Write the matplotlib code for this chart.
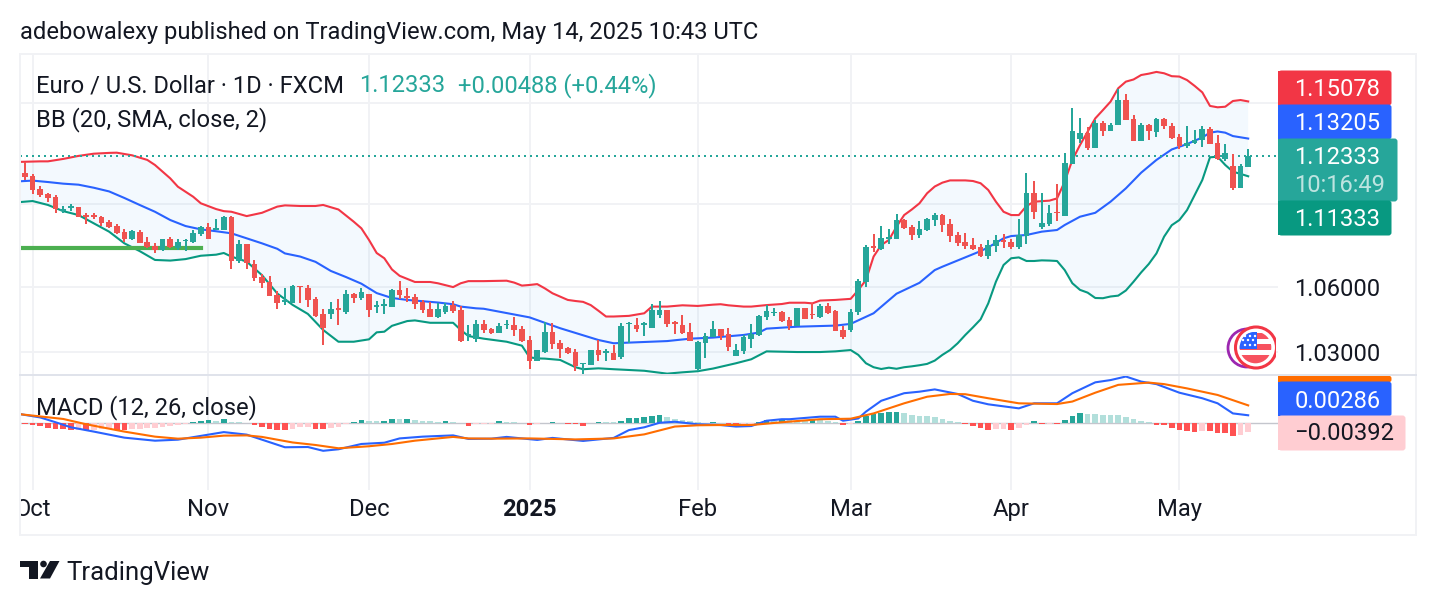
import numpy as np
import matplotlib
matplotlib.use("Agg")
import matplotlib.pyplot as plt
from matplotlib.patches import Circle, FancyBboxPatch, Polygon, Rectangle
from matplotlib.transforms import Bbox, IdentityTransform, TransformedBbox

plt.rcParams["font.family"] = ["Roboto", "DejaVu Sans"]

opens = [1.1149,1.1135,1.1071,1.1046,1.1032,1.0963,1.0978,1.0983,1.0944,1.0944,
1.0934,1.0910,1.0891,1.0862,1.0829,1.0862,1.0814,1.0796,1.0776,1.0829,
1.0786,1.0819,1.0814,1.0853,1.0886,1.0872,1.0872,1.0934,1.0724,1.0805,
1.0710,1.0648,1.0625,1.0564,1.0532,1.0527,1.0606,1.0596,1.0546,1.0476,
1.0476,1.0504,1.0485,1.0569,1.0550,1.0569,1.0508,1.0513,1.0508,1.0587,
1.0559,1.0555,1.0532,1.0499,1.0462,1.0485,1.0518,1.0494,1.0375,1.0361,
1.0430,1.0407,1.0388,1.0424,1.0425,1.0407,1.0356,1.0260,1.0301,1.0393,
1.0342,1.0319,1.0301,1.0245,1.0242,1.0310,1.0296,1.0296,1.0278,1.0430,
1.0425,1.0425,1.0411,1.0471,1.0494,1.0439,1.0425,1.0393,1.0224,1.0342,
1.0370,1.0407,1.0384,1.0283,1.0305,1.0361,1.0379,1.0462,1.0480,1.0485,
1.0448,1.0420,1.0503,1.0476,1.0462,1.0513,1.0490,1.0402,1.0402,1.0485,
1.0625,1.0795,1.0781,1.0829,1.0829,1.0920,1.0886,1.0848,1.0872,1.0920,
1.0944,1.0901,1.0848,1.0815,1.0800,1.0790,1.0748,1.0795,1.0824,1.0815,
1.0790,1.0843,1.1051,1.0886,1.0901,1.0958,1.0939,1.1195,1.1318,1.1348,
1.1273,1.1399,1.1358,1.1389,1.1515,1.1419,1.1308,1.1389,1.1353,1.1419,
1.1384,1.1328,1.1283,1.1298,1.1313,1.1368,1.1298,1.1219,1.1184,1.1077,
1.1180]
highs = [1.1206,1.1145,1.1086,1.1051,1.1041,1.0988,1.0997,1.0983,1.0954,1.0954,
1.0939,1.0920,1.0901,1.0877,1.0872,1.0872,1.0838,1.0810,1.0829,1.0838,
1.0829,1.0829,1.0872,1.0891,1.0906,1.0925,1.0939,1.0939,1.0824,1.0805,
1.0729,1.0662,1.0653,1.0582,1.0596,1.0610,1.0606,1.0610,1.0555,1.0499,
1.0532,1.0546,1.0587,1.0573,1.0596,1.0569,1.0536,1.0546,1.0592,1.0629,
1.0596,1.0569,1.0541,1.0532,1.0527,1.0527,1.0536,1.0513,1.0425,1.0448,
1.0448,1.0411,1.0434,1.0448,1.0462,1.0420,1.0374,1.0310,1.0439,1.0434,
1.0356,1.0324,1.0315,1.0251,1.0310,1.0356,1.0315,1.0333,1.0434,1.0439,
1.0457,1.0439,1.0522,1.0536,1.0494,1.0443,1.0471,1.0434,1.0351,1.0388,
1.0443,1.0407,1.0411,1.0338,1.0379,1.0430,1.0471,1.0517,1.0503,1.0490,
1.0462,1.0503,1.0503,1.0527,1.0522,1.0527,1.0494,1.0420,1.0499,1.0638,
1.0800,1.0853,1.0891,1.0877,1.0949,1.0925,1.0896,1.0915,1.0930,1.0954,
1.0949,1.0925,1.0862,1.0858,1.0834,1.0805,1.0824,1.0848,1.0853,1.0829,
1.0925,1.1148,1.1110,1.1051,1.0992,1.1095,1.1247,1.1474,1.1424,1.1378,
1.1414,1.1409,1.1399,1.1571,1.1545,1.1439,1.1399,1.1394,1.1424,1.1424,
1.1399,1.1343,1.1384,1.1363,1.1384,1.1378,1.1338,1.1293,1.1243,1.1194,
1.1268]
lows = [1.1115,1.1046,1.1032,1.1007,1.0954,1.0954,1.0963,1.0934,1.0901,1.0925,
1.0891,1.0882,1.0853,1.0814,1.0824,1.0810,1.0786,1.0762,1.0771,1.0786,
1.0776,1.0771,1.0810,1.0843,1.0829,1.0872,1.0872,1.0686,1.0715,1.0686,
1.0629,1.0596,1.0559,1.0499,1.0518,1.0527,1.0527,1.0508,1.0462,1.0333,
1.0453,1.0425,1.0476,1.0527,1.0541,1.0462,1.0480,1.0476,1.0508,1.0546,
1.0532,1.0499,1.0480,1.0462,1.0457,1.0476,1.0480,1.0347,1.0351,1.0347,
1.0388,1.0384,1.0388,1.0407,1.0374,1.0347,1.0224,1.0260,1.0296,1.0315,
1.0274,1.0292,1.0214,1.0201,1.0242,1.0260,1.0260,1.0265,1.0269,1.0342,
1.0393,1.0374,1.0411,1.0457,1.0416,1.0384,1.0384,1.0351,1.0214,1.0274,
1.0370,1.0356,1.0305,1.0283,1.0292,1.0319,1.0374,1.0448,1.0466,1.0439,
1.0402,1.0420,1.0453,1.0453,1.0457,1.0476,1.0397,1.0361,1.0393,1.0471,
1.0601,1.0767,1.0776,1.0805,1.0829,1.0877,1.0824,1.0834,1.0867,1.0891,
1.0862,1.0815,1.0795,1.0781,1.0776,1.0743,1.0734,1.0767,1.0786,1.0781,
1.0781,1.0805,1.0925,1.0877,1.0891,1.0915,1.0939,1.1195,1.1298,1.1263,
1.1273,1.1333,1.1358,1.1389,1.1414,1.1308,1.1308,1.1313,1.1328,1.1368,
1.1318,1.1268,1.1273,1.1293,1.1278,1.1293,1.1214,1.1209,1.1066,1.1077,
1.1180]
closes = [1.1130,1.1066,1.1041,1.1027,1.0973,1.0973,1.0988,1.0934,1.0934,1.0934,
1.0906,1.0886,1.0858,1.0829,1.0867,1.0810,1.0791,1.0776,1.0829,1.0791,
1.0814,1.0824,1.0858,1.0886,1.0829,1.0882,1.0934,1.0724,1.0805,1.0715,
1.0643,1.0620,1.0559,1.0527,1.0541,1.0606,1.0601,1.0541,1.0466,1.0411,
1.0499,1.0494,1.0569,1.0550,1.0578,1.0494,1.0518,1.0522,1.0587,1.0564,
1.0550,1.0522,1.0494,1.0462,1.0499,1.0513,1.0490,1.0351,1.0384,1.0430,
1.0402,1.0388,1.0420,1.0430,1.0402,1.0351,1.0260,1.0310,1.0393,1.0338,
1.0315,1.0296,1.0237,1.0251,1.0310,1.0287,1.0305,1.0265,1.0420,1.0434,
1.0407,1.0434,1.0494,1.0494,1.0430,1.0430,1.0388,1.0351,1.0347,1.0374,
1.0407,1.0374,1.0324,1.0310,1.0370,1.0384,1.0466,1.0490,1.0485,1.0443,
1.0420,1.0503,1.0453,1.0471,1.0513,1.0480,1.0397,1.0370,1.0485,1.0629,
1.0790,1.0786,1.0834,1.0838,1.0920,1.0882,1.0848,1.0877,1.0925,1.0944,
1.0896,1.0843,1.0810,1.0795,1.0781,1.0748,1.0800,1.0824,1.0815,1.0790,
1.0848,1.1051,1.0958,1.0906,1.0954,1.0954,1.1200,1.1358,1.1348,1.1273,
1.1399,1.1358,1.1389,1.1515,1.1414,1.1308,1.1389,1.1358,1.1419,1.1384,
1.1323,1.1283,1.1298,1.1313,1.1368,1.1293,1.1219,1.1248,1.1077,1.1184,
1.12333]

# Bollinger band samples: bar number and price
upper_bars = [-1,2,3,5,7,9,11,12,14,16,17,19,20,22,23,25,26,27,29,31,33,34,36,38,39,41,43,44,45,46,47,48,49,51,53,54,56,57,
58,60,63,64,65,66,67,68,69,71,72,73,74,75,76,77,79,80,81,82,84,86,88,90,91,92,94,95,97,99,100,102,103,104,106,108,109,110,
111,112,113,114,115,116,117,118,119,120,121,123,124,125,126,127,128,129,130,131,132,134,135,136,137,138,139,140,141,142,143,
144,145,146,147,148,149,150,151,152,153,154,155,156,157,158,159,160]
upper_band = [1.1204,1.1207,1.1207,1.1219,1.1234,1.1245,1.1249,1.1250,1.1237,1.1214,1.1189,1.1123,1.1082,1.1033,1.1001,1.0973,1.0963,1.0960,1.0939,1.0955,1.0985,1.0991,1.0988,1.0988,1.0993,1.0971,1.0912,1.0880,1.0824,1.0762,1.0737,1.0684,1.0654,1.0625,1.0625,1.0619,1.0601,1.0619,
1.0629,1.0629,1.0631,1.0622,1.0608,1.0611,1.0615,1.0595,1.0572,1.0541,1.0536,1.0532,1.0517,1.0491,1.0464,1.0464,1.0467,1.0473,1.0479,1.0510,1.0510,1.0516,1.0513,1.0519,1.0521,1.0516,1.0510,1.0510,1.0517,1.0522,1.0528,1.0528,1.0525,1.0538,1.0541,1.0546,1.0587,1.0634,
1.0745,1.0800,1.0824,1.0888,1.0944,1.0971,1.1001,1.1050,1.1083,1.1102,1.1113,1.1113,1.1110,1.1099,1.1066,1.1009,1.0960,1.0944,1.0944,1.0988,1.1009,1.1014,1.1025,1.1107,1.1214,1.1288,1.1355,1.1422,1.1464,1.1507,1.1575,
1.1609,1.1620,1.1643,1.1650,1.1659,1.1652,1.1637,1.1635,1.1617,1.1587,1.1554,1.1485,1.1478,1.1481,1.1510,1.1515,1.15078]

middle_bars = [-1,1,3,5,7,9,11,13,15,17,19,21,23,25,27,29,31,33,34,36,38,40,42,44,46,48,50,52,54,56,57,59,
60,66,70,75,77,79,84,87,90,94,96,97,101,106,108,111,114,115,117,119,120,125,126,128,129,131,133,135,136,138,140,142,144,146,148,150,152,154,155,156,157,158,160]
middle_band = [1.1108,1.1112,1.1105,1.1097,1.1092,1.1077,1.1059,1.1027,1.0993,1.0960,1.0920,1.0891,1.0875,1.0866,1.0856,1.0832,1.0808,1.0782,1.0760,1.0745,1.0720,1.0677,1.0648,1.0617,1.0573,1.0550,1.0541,1.0535,1.0529,1.0521,1.0510,1.0502,
1.0500,1.0460,1.0410,1.0356,1.0341,1.0344,1.0351,1.0362,1.0367,1.0379,1.0390,1.0408,1.0417,1.0422,1.0430,1.0479,1.0570,1.0587,1.0621,1.0681,1.0697,1.0771,1.0789,1.0832,1.0843,1.0848,1.0864,1.0872,1.0896,1.0936,1.0955,1.1009,1.1074,1.1151,1.1214,1.1266,1.1293,1.1326,1.1350,1.1356,1.1350,1.1333,1.13205]

lower_bars = [-1,1,3,5,7,9,11,13,15,17,19,21,23,25,26,27,29,31,33,35,37,39,41,43,45,46,47,48,50,51,53,56,57,
58,60,63,65,66,67,68,70,72,73,75,77,81,84,86,88,90,93,95,97,101,104,106,108,
109,110,111,112,113,114,115,116,117,118,119,120,121,122,123,124,125,126,127,128,129,130,131,132,133,134,135,136,137,138,139,140,141,142,143,144,145,146,147,148,149,150,151,152,153,154,155,156,157,158,159,160]
lower_band = [1.1006,1.1012,1.0993,1.0963,1.0944,1.0904,1.0864,1.0808,1.0771,1.0729,1.0726,1.0733,1.0749,1.0754,1.0762,1.0745,1.0721,1.0657,1.0571,1.0518,1.0476,1.0402,1.0348,1.0348,1.0359,1.0391,1.0394,1.0421,1.0443,1.0446,1.0435,1.0435,1.0402,
1.0374,1.0362,1.0348,1.0330,1.0277,1.0272,1.0271,1.0265,1.0232,1.0223,1.0227,1.0223,1.0216,1.0203,1.0209,1.0214,1.0226,1.0250,1.0268,1.0304,1.0301,1.0301,1.0304,1.0310,
1.0288,1.0250,1.0232,1.0224,1.0230,1.0225,1.0232,1.0236,1.0241,1.0247,1.0262,1.0288,1.0310,1.0341,1.0379,1.0414,1.0451,1.0525,1.0626,1.0705,1.0737,1.0741,1.0724,1.0724,1.0727,1.0726,1.0724,1.0681,1.0619,1.0588,1.0575,1.0550,1.0549,1.0557,1.0561,1.0585,1.0626,1.0670,1.0710,1.0760,1.0840,1.0895,1.0920,1.0968,1.1041,1.1115,1.1227,1.1230,1.1189,1.1156,1.1145,1.11333]

macd_bars = [-1,2,4,6,9,13,17,20,23,26,29,31,34,37,39,41,44,47,49,52,56,58,61,63,67,69,73,77,79,81,83,85,88,91,93,95,97,99,100,104,106,107,109,110,112,115,117,119,122,124,126,130,132,135,137,140,142,144,146,148,151,154,156,158,160]
macd_line = [.0035,.0020,.0001,-.0019,-.0036,-.0060,-.0072,-.0068,-.0053,-.0038,-.0048,-.0068,-.0098,-.0097,-.0112,-.0106,-.0085,-.0080,-.0063,-.0056,-.0051,-.0065,-.0064,-.0057,-.0069,-.0061,-.0073,-.0061,-.0030,-.0019,-.0001,.0003,-.0007,-.0010,-.0016,-.0014,.0007,.0013,.0013,.0023,.0023,.0007,.0016,.0043,.0086,.0116,.0122,.0131,.0113,.0086,.0072,.0056,.0076,.0076,.0116,.0159,.0168,.0182,.0162,.0152,.0118,.0096,.0076,.0036,.00286]

signal_bars = [-1,2,5,8,13,17,20,23,26,29,31,35,38,41,45,48,51,56,58,61,66,72,77,81,85,88,91,95,99,104,108,111,115,118,121,123,126,130,135,137,140,143,147,149,152,156,160]
signal_line = [.0034,.0024,.0014,-.0007,-.0036,-.0056,-.0064,-.0060,-.0052,-.0051,-.0057,-.0079,-.0089,-.0102,-.0094,-.0085,-.0072,-.0057,-.0063,-.0064,-.0063,-.0067,-.0063,-.0047,-.0016,-.0011,-.0010,-.0010,.0001,.0013,.0015,.0036,.0076,.0102,.0113,.0112,.0096,.0076,.0073,.0083,.0118,.0149,.0158,.0152,.0135,.0109,.00678]

histogram = [-.0004,-.0008,-.0013,-.0020,-.0026,-.0027,-.0031,-.0030,-.0030,-.0029,
-.0026,-.0025,-.0029,-.0030,-.0027,-.0024,-.0023,-.0022,-.0018,-.0013,
-.0010,-.0006,.0003,.0004,.0008,.0007,.0012,.0002,.0001,-.0001,
-.0008,-.0016,-.0024,-.0029,-.0030,-.0024,-.0018,-.0017,-.0024,-.0026,
-.0021,-.0016,-.0004,.0002,.0008,.0007,.0005,.0006,.0012,.0012,
.0013,.0011,.0007,.0004,.0002,.0004,.0003,-.0003,-.0012,-.0007,
-.0006,-.0004,.0004,.0003,.0002,-.0001,-.0009,-.0007,-.0003,.0001,
-.0001,-.0007,-.0007,-.0012,-.0003,.0003,.0002,.0002,.0007,.0016,
.0019,.0021,.0025,.0029,.0023,.0015,.0011,.0004,.0001,-.0001,
.0003,-.0003,-.0007,-.0007,-.0006,-.0004,.0003,.0008,.0007,.0009,
.0008,.0007,.0007,.0009,.0009,.0007,.0003,-.0008,-.0005,.0007,
.0024,.0032,.0036,.0040,.0042,.0036,.0030,.0026,.0024,.0020,
.0013,.0005,.0001,-.0007,-.0013,-.0022,-.0029,-.0026,-.0025,-.0029,
-.0020,-.0008,.0004,-.0007,-.0004,-.0004,.0009,.0026,.0036,.0035,
.0034,.0030,.0030,.0030,.0020,.0012,.0004,.0001,-.0008,-.0011,
-.0020,-.0029,-.0033,-.0037,-.0033,-.0034,-.0040,-.0040,-.0053,-.0050,
-.00392]

support_bars = [-1, 23]
support_level = [1.0786, 1.0786]

month_bars = [1, 24, 45, 66, 88, 108, 129, 151]
month_names = ["Oct", "Nov", "Dec", "2025", "Feb", "Mar", "Apr", "May"]
price_ticks = [1.03, 1.06, 1.10, 1.15]
price_tick_labels = ["1.03000", "1.06000", "", ""]
last_close = 1.12333

UP, DOWN = "#26a69a", "#ef5350"
GRID = "#f1f2f5"
INK = "#131722"
W, H = 1436, 606
FS = 17.15
LINE = 1.5


def pane(fig, left, top, right, bottom):
    return fig.add_axes([left / W, 1 - bottom / H, (right - left) / W, (bottom - top) / H])


fig = plt.figure(figsize=(W / 100, H / 100), dpi=100, facecolor="white")
ax = pane(fig, 20, 55, 1278, 375)
mx = pane(fig, 20, 376, 1278, 490)
bars = np.arange(len(closes))
x_range = (-0.654, 163.9)

# Candles and Bollinger bands on a logarithmic price scale
ax.set_yscale("log")
ax.set_xlim(*x_range)
ax.set_ylim(1.01969, 1.17465)
o, h, l, c = map(np.array, (opens, highs, lows, closes))
colors = np.where(c >= o, UP, DOWN)

ax.fill(list(upper_bars) + list(lower_bars)[::-1],
        list(upper_band) + list(lower_band)[::-1],
        color="#2196f3", alpha=0.05, lw=0, zorder=1)
ax.plot(upper_bars, upper_band, color="#f23645", lw=LINE, zorder=2)
ax.plot(middle_bars, middle_band, color="#2962ff", lw=LINE, zorder=2)
ax.plot(lower_bars, lower_band, color="#089981", lw=LINE, zorder=2)
ax.plot(support_bars, support_level, color="#4caf50", lw=3.0, zorder=2.5)
ax.axhline(last_close, color=UP, lw=1.44, dashes=(1, 2), zorder=2.6)
ax.vlines(bars, l, h, colors=colors, lw=1.44, zorder=3)
ax.bar(bars, np.abs(c - o), bottom=np.minimum(o, c), width=0.74, color=colors, lw=0, zorder=4)

# MACD pane
mx.set_xlim(*x_range)
mx.set_ylim(-0.02672, 0.01841)
hist = np.array(histogram)
prev = np.r_[hist[0], hist[:-1]]
hist_colors = np.where(hist >= 0,
                       np.where(hist > prev, "#26a69a", "#b2dfdb"),
                       np.where(hist > prev, "#ffcdd2", "#ff5252"))
mx.axhline(0, color="#c4c6cd", lw=1.0, zorder=1)
mx.bar(bars, hist, width=0.74, color=hist_colors, lw=0, zorder=2)
mx.plot(macd_bars, macd_line, color="#2962ff", lw=LINE, zorder=3)
mx.plot(signal_bars, signal_line, color="#ff6d00", lw=LINE, zorder=3)

for a in (ax, mx):
    for s in a.spines.values():
        s.set_visible(False)
    a.set_facecolor("white")
    a.set_xticks(month_bars)
    a.grid(True, axis="x", color=GRID, lw=1.44, zorder=0)
    a.set_axisbelow(True)
    a.tick_params(length=0)
ax.set_xticklabels([])
ax.yaxis.tick_right()
ax.minorticks_off()
ax.set_yticks(price_ticks)
ax.set_yticklabels(price_tick_labels, fontsize=FS, color=INK)
ax.tick_params(axis="y", pad=11.5)
ax.grid(True, axis="y", which="major", color=GRID, lw=1.44, zorder=0)
mx.set_yticks([])
mx.set_xticklabels(month_names, fontsize=FS, color=INK)
mx.tick_params(axis="x", pad=6)
clip = TransformedBbox(Bbox([[20, 0], [W, H]]), IdentityTransform())
for lbl in mx.get_xticklabels():
    lbl.set_clip_box(clip)
    lbl.set_clip_on(True)
    if lbl.get_text() == "2025":
        lbl.set_fontweight("bold")

# Page furniture drawn in figure pixels
ov = fig.add_axes([0, 0, 1, 1], zorder=10)
ov.set_xlim(0, W)
ov.set_ylim(H, 0)
ov.axis("off")
ov.patch.set_visible(False)

ov.add_patch(Rectangle((20, 54), 1396, 481, fill=False, ec=GRID, lw=1.44))
ov.plot([20, 1416], [375, 375], color="#e0e3eb", lw=1.44)

ov.text(20, 32.5, "adebowalexy published on TradingView.com, May 14, 2025 10:43 UTC",
        fontsize=FS, color=INK, va="center")
ov.text(36, 86, "Euro / U.S. Dollar · 1D · FXCM", fontsize=FS, color=INK, va="center")
ov.text(359, 86, "1.12333", fontsize=FS, color=UP, va="center")
ov.text(458, 86, "+0.00488 (+0.44%)", fontsize=FS, color=UP, va="center")
ov.text(36, 120, "BB (20, SMA, close, 2)", fontsize=FS, color=INK, va="center")
ov.text(36, 408, "MACD (12, 26, close)", fontsize=FS, color=INK, va="center")


def tag(top, bottom, right, color):
    ov.add_patch(FancyBboxPatch((1280, top + 1), right - 1282, bottom - top - 2,
                                boxstyle="round,pad=1.5,rounding_size=3",
                                fc=color, ec="none", mutation_aspect=1))
    ov.add_patch(Rectangle((1278, top), 6, bottom - top, fc=color, ec="none"))


tag(376, 382, 1392, "#ff6d00")
tag(71, 105, 1392, "#f23645")
tag(105, 139, 1392, "#2962ff")
tag(139, 201, 1398, "#26a69a")
tag(201, 235, 1392, "#089981")
tag(382, 416, 1392, "#2962ff")
tag(416, 450, 1406, "#ffcdd2")
tags = [(90, "1.15078", "white"), (123.5, "1.13205", "white"), (158, "1.12333", "white"),
        (219.5, "1.11333", "white"), (401, "0.00286", "white"), (434, "\u22120.00392", INK)]
for y, s, col in tags:
    ov.text(1294.5, y, s, fontsize=FS, color=col, va="center")
ov.text(1294.5, 186, "10:16:49", fontsize=FS, color="white", alpha=0.7, va="center")

# Time-zone flag marker, cut off at the price scale
edge = Rectangle((1200, 320), 76, 54, transform=ov.transData)
ring1 = Circle((1247, 348), 19, fc="white", ec="#9c27b0", lw=2.0)
ring2 = Circle((1256, 347.5), 20.5, fc="white", ec="#f23645", lw=2.2)
for p in (ring1, ring2):
    ov.add_patch(p)
    p.set_clip_path(edge)
disc = Circle((1255.5, 347.5), 15.8, transform=ov.transData)
stripes = [Rectangle((1238, 333), 36, 5.5, fc="#f7525f", ec="none"),
           Rectangle((1238, 344), 36, 5.5, fc="#f7525f", ec="none"),
           Rectangle((1238, 355), 36, 9, fc="#f7525f", ec="none"),
           Rectangle((1238, 332), 19, 17, fc="#2962ff", ec="none")]
for p in stripes:
    ov.add_patch(p)
    p.set_clip_path(disc)
for sx, sy in [(1245, 336), (1250, 336), (1255, 336), (1243, 340), (1248, 340), (1253, 340),
               (1245, 345), (1250, 345), (1255, 345)]:
    ov.add_patch(Circle((sx, sy), 1.2, fc="white", ec="none"))

# TradingView wordmark
LOGO = "#131722"
ov.add_patch(Polygon([(20, 561), (37.5, 561), (37.5, 578.5), (29, 578.5), (29, 567), (20, 567)], fc=LOGO, ec="none"))
ov.add_patch(Circle((43.5, 564), 3.3, fc=LOGO, ec="none"))
ov.add_patch(Polygon([(50, 561), (59.5, 561), (50, 578.5), (40, 578.5)], fc=LOGO, ec="none"))
ov.text(66, 573, "TradingView", fontsize=18.5, color=INK, va="center")

fig.savefig("out.png", dpi=100, facecolor="white")
